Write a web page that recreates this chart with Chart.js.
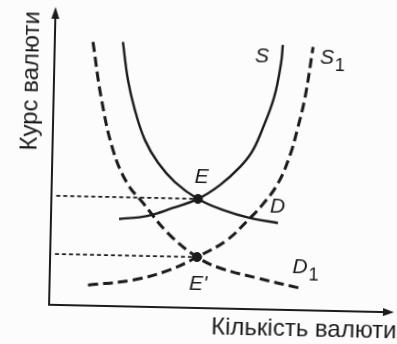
<!DOCTYPE html>
<html lang="uk">
<head>
<meta charset="utf-8">
<title>Курс валюти</title>
<script src="https://cdn.jsdelivr.net/npm/chart.js@4/dist/chart.umd.min.js"></script>
<style>
    html, body { margin: 0; padding: 0; background: #fcfcfc; overflow: hidden; }
    #currency-chart { display: block; transform-origin: 198.5px 172px; }
</style>
</head>
<body>
<canvas id="currency-chart" width="412" height="350"></canvas>
<script>
    "use strict";

    // Curves in axis units (0-100 on both axes)
    var demandX = [19.8, 21.5, 23.7, 26.8, 30.8, 35.8, 42.6, 49.9, 57.8, 66.0];
    var demandY = [88.7, 76.0, 66.0, 56.0, 48.4, 42.1, 36.6, 33.1, 30.6, 29.1];

    var supplyX = [19.8, 27.9, 35.4, 42.6, 48.9, 54.6, 58.0, 60.8, 64.1, 65.9, 66.3];
    var supplyY = [29.3, 30.5, 33.4, 36.6, 41.4, 47.6, 52.8, 60.2, 71.3, 82.8, 88.9];

    var demand1X = [11.1, 13.8, 17.6, 21.9, 26.7, 34.1, 42.7, 49.4, 60.3, 72.8];
    var demand1Y = [88.5, 70.1, 52.4, 41.4, 34.8, 24.9, 17.1, 13.6, 10.5, 7.4];

    var supply1X = [11.2, 24.2, 34.9, 42.7, 51.3, 57.3, 61.3, 65.8, 69.1, 71.0, 73.1, 75.1];
    var supply1Y = [6.9, 8.9, 12.6, 17.1, 23.0, 29.9, 35.0, 42.5, 52.0, 60.4, 71.6, 88.4];

    // Equilibrium points E and E'
    var equilibriumNames = ["E", "E'"];
    var equilibriumX = [42.6, 42.7];
    var equilibriumY = [36.6, 17.1];

    var axisTitleX = "Кількість валюти";
    var axisTitleY = "Курс валюти";

    var ink = "#1b1b1b";
    var tilt = 1.25;

    function toPoints(xs, ys) {
        var pts = [];
        for (var i = 0; i < xs.length; i++) {
            pts.push({x: xs[i], y: ys[i]});
        }
        return pts;
    }

    // label text, subscript, position in axis units
    var curveLabels = [
        {text: "S", sub: "", x: 60.3, y: 84.7},
        {text: "S", sub: "1", x: 79.2, y: 85.0},
        {text: "D", sub: "", x: 65.8, y: 34.6},
        {text: "D", sub: "1", x: 72.7, y: 14.3},
        {text: equilibriumNames[0], sub: "", x: 43.5, y: 43.8},
        {text: equilibriumNames[1], sub: "", x: 43.2, y: 8.0}
    ];

    // Axes with arrows, axis titles and curve labels
    var decorPlugin = {
        id: 'decor',
        afterDatasetsDraw: function (chart) {
            var ctx = chart.ctx;
            var xs = chart.scales.x, ys = chart.scales.y;
            var ox = xs.getPixelForValue(0), oy = ys.getPixelForValue(0);
            var top = ys.getPixelForValue(100);
            var right = xs.getPixelForValue(100) + 1;

            ctx.save();
            ctx.strokeStyle = ink;
            ctx.fillStyle = ink;
            ctx.lineWidth = 2;
            ctx.beginPath();
            ctx.moveTo(ox, top + 8);
            ctx.lineTo(ox, oy);
            ctx.lineTo(right - 8, oy);
            ctx.stroke();

            ctx.beginPath();
            ctx.moveTo(ox, top);
            ctx.lineTo(ox - 4, top + 12);
            ctx.lineTo(ox + 4, top + 12);
            ctx.closePath();
            ctx.fill();

            ctx.beginPath();
            ctx.moveTo(right, oy);
            ctx.lineTo(right - 11, oy - 4);
            ctx.lineTo(right - 11, oy + 4);
            ctx.closePath();
            ctx.fill();

            ctx.font = "24px 'Liberation Sans', Arial, sans-serif";
            ctx.textBaseline = "alphabetic";
            ctx.textAlign = "right";
            ctx.fillText(axisTitleX, right + 3, oy + 26);

            ctx.save();
            ctx.translate(36, 84.5);
            ctx.rotate(-Math.PI / 2);
            ctx.textAlign = "center";
            ctx.fillText(axisTitleY, 0, 0);
            ctx.restore();

            ctx.textBaseline = "middle";
            ctx.textAlign = "left";
            curveLabels.forEach(function (lb) {
                ctx.font = "italic 21px 'Liberation Sans', Arial, sans-serif";
                var w = ctx.measureText(lb.text).width;
                var px = xs.getPixelForValue(lb.x) - w / 2;
                var py = ys.getPixelForValue(lb.y);
                ctx.fillText(lb.text, px, py);
                if (lb.sub) {
                    ctx.font = "18px 'Liberation Sans', Arial, sans-serif";
                    ctx.fillText(lb.sub, px + w + 1, py + 8);
                }
            });
            ctx.restore();
        }
    };

    var canvas = document.getElementById('currency-chart');
    canvas.style.transform = 'rotate(' + tilt + 'deg)';

    var guideLines = equilibriumX.map(function (ex, i) {
        return {
            data: [{x: 1.4, y: equilibriumY[i]}, {x: ex, y: equilibriumY[i]}],
            borderColor: ink,
            borderWidth: 1.8,
            borderDash: [4, 3],
            showLine: true,
            pointRadius: 0
        };
    });

    var curveStyle = function (pts, dashed) {
        return {
            data: pts,
            borderColor: ink,
            borderWidth: dashed ? 3 : 2.4,
            borderDash: dashed ? [10, 5] : [],
            showLine: true,
            tension: 0.4,
            pointRadius: 0
        };
    };

    var chart = new Chart(canvas.getContext('2d'), {
        type: 'scatter',
        data: {
            datasets: guideLines.concat([
                curveStyle(toPoints(demandX, demandY), false),
                curveStyle(toPoints(supplyX, supplyY), false),
                curveStyle(toPoints(demand1X, demand1Y), true),
                curveStyle(toPoints(supply1X, supply1Y), true),
                {
                    data: toPoints(equilibriumX, equilibriumY),
                    backgroundColor: ink,
                    borderColor: ink,
                    pointRadius: 4.5,
                    showLine: false
                }
            ])
        },
        options: {
            responsive: false,
            animation: false,
            clip: false,
            layout: {padding: {left: 52, top: 10, right: 16, bottom: 42}},
            plugins: {
                legend: {display: false},
                tooltip: {enabled: false}
            },
            scales: {
                x: {type: 'linear', display: false, min: 0, max: 100},
                y: {type: 'linear', display: false, min: 0, max: 100}
            }
        },
        plugins: [decorPlugin]
    });
</script>
</body>
</html>
